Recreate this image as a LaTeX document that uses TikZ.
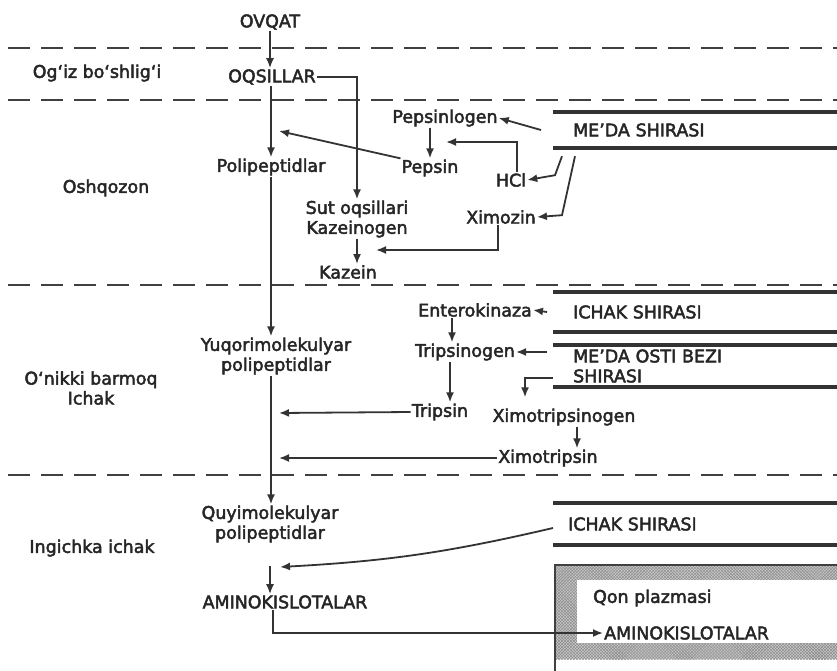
\documentclass[tikz,border=0pt]{standalone}
\usepackage{fontspec}
\setmainfont{DejaVu Sans}[BoldFont={DejaVu Sans}, BoldFeatures={FakeBold=2.6}]
\usetikzlibrary{positioning}
\usetikzlibrary{arrows.meta}
\usetikzlibrary{patterns}

\begin{document}
\begin{tikzpicture}[x=1bp, y=-1bp,
                >={Latex[length=10bp,width=8bp]},
                txt/.style={inner sep=1bp, font=\fontsize{17.5}{20}\bfseries, text=black!85, align=center},
                shirasi/.style={txt, anchor=west, align=left, inner xsep=20bp, text width=260bp},
                sep/.style={draw=black!75, line width=2bp, dash pattern=on 22bp off 11bp},
                flow/.style={->, draw=black!80, line width=1.8bp},
                bar/.style={draw=black!80, line width=4bp},
            ]
            \useasboundingbox (0,0) rectangle (837,671);

            % Zones
            \draw[sep] (8,48) -- (837,48);
            \draw[sep] (8,100) -- (837,100);
            \draw[sep] (8,285) -- (837,285);
            \draw[sep] (8,475) -- (837,475);

            \node[txt]  (ogiz)     at (97,73)     {Og‘iz bo‘shlig‘i};
            \node[txt]  (oshqozon) at (106,188)   {Oshqozon};
            \node[txt]  (onikki)   at (91,388)    {O‘nikki barmoq\\Ichak};
            \node[txt]  (ingichka) at (92,548)    {Ingichka ichak};

            % Nodes
            \node[txt]  (ovqat)    at (270,22)    {OVQAT};
            \node[txt]  (oqsil)    at (272,77)    {OQSILLAR};
            \node[txt]  (polip)    at (271,167)   {Polipeptidlar};
            \node[txt]  (pepsinogen) at (445,118) {Pepsinlogen};
            \node[txt]  (pepsin)   at (430,168)   {Pepsin};
            \node[txt]  (hcl)      at (511,180)   {HCl};
            \node[txt]  (ximozin)  at (501,217)   {Ximozin};
            \node[txt]  (sut)      at (357,219)   {Sut oqsillari\\Kazeinogen};
            \node[txt]  (kazein)   at (348,272)   {Kazein};

            \node[txt]  (yuqori)   at (276,356)   {Yuqorimolekulyar\\polipeptidlar};
            \node[txt]  (enterok)  at (475,310)   {Enterokinaza};
            \node[txt]  (tripsinogen) at (465,352) {Tripsinogen};
            \node[txt]  (tripsin)  at (440,412)   {Tripsin};
            \node[txt]  (ximotripsinogen) at (564,417) {Ximotripsinogen};
            \node[txt]  (ximotripsin) at (548,458) {Ximotripsin};

            \node[txt]  (quyi)     at (270,524)   {Quyimolekulyar\\polipeptidlar};
            \node[txt]  (amino)    at (285,602)   {AMINOKISLOTALAR};

            \node[shirasi, minimum height=36bp] (meda)   at (553,130) {ME’DA SHIRASI};
            \node[shirasi, minimum height=39bp] (ichak1) at (553,312) {ICHAK SHIRASI};
            \node[shirasi, minimum height=42bp] (osti)   at (553,366) {ME’DA OSTI BEZI\\SHIRASI};
            \node[shirasi, minimum height=42bp, inner xsep=15bp, text width=270bp] (ichak2) at (553,524) {ICHAK SHIRASI};

            \draw[bar] (meda.north west) -- (meda.north east);
            \draw[bar] (meda.south west) -- (meda.south east);
            \draw[bar] (ichak1.north west) -- (ichak1.north east);
            \draw[bar] (ichak1.south west) -- (ichak1.south east);
            \draw[bar] (osti.north west) -- (osti.north east);
            \draw[bar] (osti.south west) -- (osti.south east);
            \draw[bar] (ichak2.north west) -- (ichak2.north east);
            \draw[bar] (ichak2.south west) -- (ichak2.south east);

            % Qon plazmasi
            \fill[black!22] (555,565) rectangle (845,659);
            \fill[pattern=crosshatch, pattern color=black!45] (555,565) rectangle (845,659);
            \fill[white] (577,580) rectangle (845,643);
            \draw[black!75, line width=1.2bp] (845,565) -- (555,565) -- (555,671);
            \node[txt, anchor=west] (qon)    at (592,598) {Qon plazmasi};
            \node[txt, anchor=west] (amino2) at (603,633) {AMINOKISLOTALAR};

            \coordinate (hitpep) at (279,131);
            \coordinate (hitpsg) at (446,142);
            \coordinate (hitkaz) at (376,250);
            \coordinate (hittrp) at (279,413);
            \coordinate (hitxim) at (279,458);
            \coordinate (hitami) at (280,567);

            %Lines
            \draw[flow] (ovqat.south) -- (ovqat.south |- oqsil.north);
            \draw[flow] (polip.north |- oqsil.south) -- (polip.north);
            \draw[flow] (oqsil.east) -| (sut.north);

            \draw[flow] (pepsin.north west) -- (hitpep);
            \draw[flow] (pepsinogen.south -| pepsin.north) -- (pepsin.north);
            \draw[flow] ([xshift=6bp]hcl.north) |- (hitpsg);
            \draw[flow] ([xshift=-12bp]meda.west) -- (pepsinogen.east);
            \draw[flow] ([shift={(9bp,-8bp)}]meda.south west) -- ++(-7,19) -- (hcl.east);
            \draw[flow] ([shift={(22bp,-8bp)}]meda.south west) -- ++(-13,59) -- (ximozin.east);
            \draw[flow] ([xshift=-3bp]ximozin.south) |- (hitkaz);
            \draw[flow] (sut.south) -- (sut.south |- kazein.north);

            \draw[flow] (polip.south) -- (polip.south |- yuqori.north);
            \draw[flow] (polip.south |- yuqori.south) -- (polip.south |- quyi.north);
            \draw[flow] (tripsin.west) -- (hittrp);
            \draw[flow] (ximotripsin.west) -- (hitxim);
            \draw[flow] ([xshift=-6bp]ichak1.west) -- (enterok.east);
            \draw[flow] ([xshift=-6bp]tripsinogen.east -| osti.west) -- (tripsinogen.east);
            \draw[flow] ([xshift=-13bp]tripsinogen.north |- enterok.south) -- ([xshift=-13bp]tripsinogen.north);
            \draw[flow] ([xshift=10bp]tripsin.north |- tripsinogen.south) -- ([xshift=10bp]tripsin.north);
            \draw[flow] ([yshift=-12bp]osti.west) -| ([xshift=-39bp,yshift=10bp]ximotripsinogen.north);
            \draw[flow] ([xshift=13bp]ximotripsinogen.south) -- ([xshift=13bp]ximotripsinogen.south |- ximotripsin.north);

            \draw[flow] ([yshift=-4bp]ichak2.west) to[bend left=5] (hitami);
            \draw[flow] ([yshift=-22bp]quyi.south) -- (quyi.south |- amino.north);
            \draw[flow] ([xshift=-12bp]amino.south) |- (amino2.west);
        \end{tikzpicture}
\end{document}
